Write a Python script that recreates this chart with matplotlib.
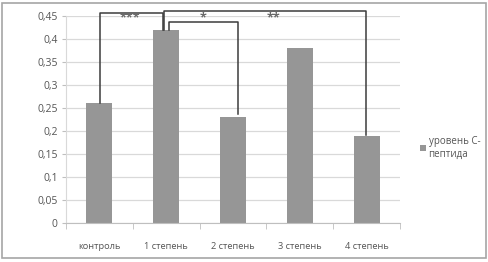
import matplotlib.pyplot as plt
from matplotlib.patches import Rectangle
from matplotlib.ticker import FuncFormatter

categories = ['контроль', '1 степень', '2 степень', '3 степень', '4 степень']
values = [0.26, 0.42, 0.23, 0.38, 0.19]
series_label = 'уровень С-\nпептида'
yticks = [0, 0.05, 0.1, 0.15, 0.2, 0.25, 0.3, 0.35, 0.4, 0.45]

# significance brackets: (left x, right x, left leg bottom, right leg bottom, top y, stars, star x)
brackets = [
    (0.01, 0.95, 0.26, 0.42, 0.456, '***', 0.46),
    (0.97, 3.99, 0.42, 0.191, 0.461, '**', 2.6),
    (1.04, 2.08, 0.42, 0.236, 0.437, '*', 1.55),
]

plt.rcParams['font.family'] = ['Open Sans', 'DejaVu Sans']

fig = plt.figure(figsize=(4.89, 2.62), dpi=100)
ax = fig.add_axes([0.135, 0.149, 0.683, 0.790])

x = list(range(len(categories)))
ax.bar(x, values, width=0.39, color='#969696', label=series_label, zorder=2)

ax.set_xlim(-0.5, len(categories) - 0.5)
ax.set_ylim(0, 0.45)
ax.set_yticks(yticks)
ax.yaxis.set_major_formatter(FuncFormatter(lambda v, p: ('%g' % round(v, 2)).replace('.', ',')))
ax.yaxis.grid(True, color='#d9d9d9', lw=0.9, zorder=0)
ax.set_xticks(x)
ax.set_xticklabels(categories)
ax.set_xticks([i + 0.5 for i in range(-1, len(categories))], minor=True)
ax.tick_params(axis='x', which='major', length=0, pad=14, labelsize=6.7, colors='#555555')
ax.tick_params(axis='x', which='minor', length=4, color='#bfbfbf')
ax.tick_params(axis='y', length=3, labelsize=7.5, pad=3, colors='#bfbfbf', labelcolor='#555555')

for s in ['top', 'right']:
    ax.spines[s].set_visible(False)
ax.spines['left'].set_color('#d9d9d9')
ax.spines['bottom'].set_color('#bfbfbf')

for x0, x1, y0, y1, top, stars, sx in brackets:
    ax.plot([x0, x0, x1, x1], [y0, top, top, y1], color='#3c3c3c', lw=1.1,
            clip_on=False, zorder=3)
    ax.text(sx, 0.446, stars, ha='center', va='center', fontsize=9, fontweight='bold',
            color='#6a6a6a', zorder=4)

leg = ax.legend(loc='upper left', bbox_to_anchor=(415 / 489, 1 - 131 / 262),
                bbox_transform=fig.transFigure, frameon=False, fontsize=7,
                handlelength=0.6, handleheight=0.6, handletextpad=0.3,
                borderpad=0, labelcolor='#555555')

fig.patches.append(Rectangle((2 / 489, 4 / 262), 484 / 489, 255 / 262,
                             transform=fig.transFigure, fill=False,
                             edgecolor='#a6a6a6', lw=1.2))

fig.savefig('out.png', dpi=100)
